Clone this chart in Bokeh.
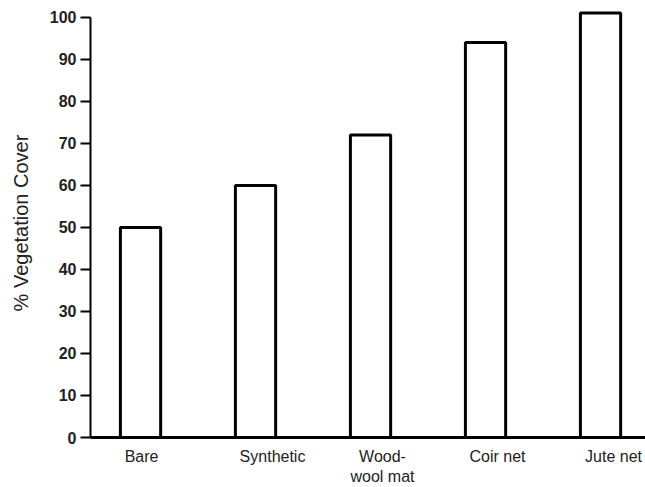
from bokeh.plotting import figure
from bokeh.models import Range1d, FixedTicker
from bokeh.embed import file_html
from bokeh.resources import INLINE

categories = ["Bare", "Synthetic", "Wood-\nwool mat", "Coir net", "Jute net"]
cover = [50, 60, 72, 94, 101]
y_ticks = [0, 10, 20, 30, 40, 50, 60, 70, 80, 90, 100]

xs = list(range(1, len(categories) + 1))
bar_w = 0.35
px_per_unit = 115.0
# label shift to the right of the bar centre (screen px), as in the original typesetting
label_shift_px = [1, 17, 12, 12, 13]
label_pos = [x + s / px_per_unit for x, s in zip(xs, label_shift_px)]

p = figure(width=645, height=487, output_backend="svg", toolbar_location=None,
           x_range=Range1d(0.565, 5.391), y_range=Range1d(0, 102.1),
           min_border_left=90, min_border_right=0, min_border_top=8, min_border_bottom=48)
p.outline_line_color = None
p.xgrid.visible = False
p.ygrid.visible = False

p.vbar(x=xs, top=cover, width=bar_w, fill_color="white", line_color="black", line_width=3)

# y axis
ya = p.yaxis[0]
ya.ticker = FixedTicker(ticks=y_ticks)
ya.bounds = (0, 100)
ya.axis_line_width = 2
ya.major_tick_line_width = 2
ya.major_tick_out = 10
ya.major_tick_in = 0
ya.minor_tick_line_color = None
ya.major_label_standoff = 4
ya.major_label_text_font = "Liberation Sans"
ya.major_label_text_font_style = "bold"
ya.major_label_text_font_size = "16px"
ya.major_label_text_color = "#222222"
ya.axis_label = "% Vegetation Cover"
ya.axis_label_text_font = "Liberation Sans"
ya.axis_label_text_font_style = "normal"
ya.axis_label_text_font_size = "20px"
ya.axis_label_text_color = "#222222"
ya.axis_label_standoff = 15

# x axis
xa = p.xaxis[0]
xa.ticker = FixedTicker(ticks=label_pos)
xa.major_label_overrides = {lp: c for lp, c in zip(label_pos, categories)}
xa.axis_line_width = 3
xa.major_tick_line_color = None
xa.major_tick_out = 0
xa.major_tick_in = 0
xa.minor_tick_line_color = None
xa.major_label_standoff = 10
xa.major_label_text_font = "Liberation Sans"
xa.major_label_text_font_size = "16px"
xa.major_label_text_color = "#222222"

open("out.html", "w").write(file_html(p, INLINE))
